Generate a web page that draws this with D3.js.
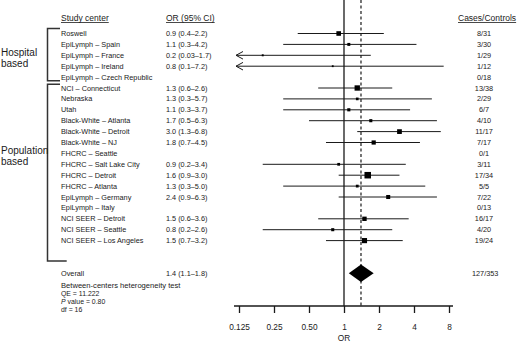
<!DOCTYPE html>
<html>
<head>
<meta charset="utf-8">
<script src="https://cdn.jsdelivr.net/npm/d3@7"></script>
<style>
  html, body { margin: 0; padding: 0; background: #fff; }
  svg { display: block; font-family: "Liberation Sans", Arial, Helvetica, sans-serif; }
</style>
</head>
<body>
<script>
const width = 520;
const height = 343;

// study rows, top to bottom
const centers = [
  "Roswell", "EpiLymph – Spain", "EpiLymph – France", "EpiLymph – Ireland",
  "EpiLymph – Czech Republic", "NCI – Connecticut", "Nebraska", "Utah",
  "Black-White – Atlanta", "Black-White – Detroit", "Black-White – NJ",
  "FHCRC – Seattle", "FHCRC – Salt Lake City", "FHCRC – Detroit", "FHCRC – Atlanta",
  "EpiLymph – Germany", "EpiLymph – Italy", "NCI SEER – Detroit",
  "NCI SEER – Seattle", "NCI SEER – Los Angeles"
];
const oddsRatio = [0.9, 1.1, 0.2, 0.8, null, 1.3, 1.3, 1.1, 1.7, 3.0, 1.8, null, 0.9, 1.6, 1.3, 2.4, null, 1.5, 0.8, 1.5];
const ciLow     = [0.4, 0.3, 0.03, 0.1, null, 0.6, 0.3, 0.3, 0.5, 1.3, 0.7, null, 0.2, 0.9, 0.3, 0.9, null, 0.6, 0.2, 0.7];
const ciHigh    = [2.2, 4.2, 1.7, 7.2, null, 2.6, 5.7, 3.7, 6.3, 6.8, 4.5, null, 3.4, 3.0, 5.0, 6.3, null, 3.6, 2.6, 3.2];
const casesControls = ["8/31", "3/30", "1/29", "1/12", "0/18", "13/38", "2/29", "6/7", "4/10", "11/17",
  "7/17", "0/1", "3/11", "17/34", "5/5", "7/22", "0/13", "16/17", "4/20", "19/24"];

// groups: first/last row index
const groups = [
  { name: ["Hospital", "based"], from: 0, to: 4 },
  { name: ["Population", "based"], from: 5, to: 19 }
];

const overall = { or: 1.4, lo: 1.1, hi: 1.8, cases: "127/353" };
const hetero = ["Between-centers heterogeneity test", "QE = 11.222", "P value = 0.80", "df = 16"];

const tickValues = [0.125, 0.25, 0.5, 1, 2, 4, 8];
const tickLabels = ["0.125", "0.25", "0.50", "1", "2", "4", "8"];

const ink = "#1a1a1a";

const svg = d3.select("body").append("svg")
  .attr("width", width)
  .attr("height", height);

const x = d3.scaleLog().base(2).domain([0.125, 8]).range([239, 449]);
const y = d3.scaleLinear().domain([0, 22]).range([33.5, 273.3]);
const side = d3.scaleLinear().domain([0, 1]).range([0, 2]); // precision (1/se) -> square side

const fmt = (v) => v < 0.1 ? v.toFixed(2) : v.toFixed(1);
const axisY = 306;
const xLeft = x.range()[0] - 3;

// reference lines
svg.append("line")
  .attr("x1", x(1)).attr("x2", x(1))
  .attr("y1", 0).attr("y2", axisY)
  .attr("stroke", ink).attr("stroke-width", 1.3);

svg.append("line")
  .attr("x1", x(overall.or)).attr("x2", x(overall.or))
  .attr("y1", 0).attr("y2", axisY)
  .attr("stroke", ink).attr("stroke-width", 1.2)
  .attr("stroke-dasharray", "3,2.5");

// axis
const axis = svg.append("g")
  .attr("transform", `translate(0,${axisY})`)
  .call(d3.axisBottom(x)
    .tickValues(tickValues)
    .tickFormat((d, i) => tickLabels[i])
    .tickSize(7)
    .tickSizeOuter(0)
    .tickPadding(11));
axis.select(".domain")
  .attr("d", `M${x.range()[0] - 5},0H${x.range()[1] + 4}`)
  .attr("stroke", ink).attr("stroke-width", 1.3);
axis.selectAll(".tick line").attr("stroke", ink).attr("stroke-width", 1.3);
axis.selectAll(".tick text")
  .attr("font-size", 8.3)
  .attr("font-family", "Liberation Sans, Arial, sans-serif")
  .attr("fill", ink);

svg.append("text")
  .attr("x", x(1)).attr("y", 341.3)
  .attr("text-anchor", "middle")
  .attr("font-size", 8.3).attr("fill", ink)
  .text("OR");

// headers
const headers = [
  { t: "Study center", x: 61 },
  { t: "OR (95% CI)", x: 166 },
  { t: "Cases/Controls", x: 458 }
];
headers.forEach((h) => {
  const t = svg.append("text")
    .attr("x", h.x).attr("y", 20.5)
    .attr("font-size", 8.5).attr("fill", ink)
    .text(h.t);
  const w = t.node().getComputedTextLength();
  svg.append("line")
    .attr("x1", h.x).attr("x2", h.x + w)
    .attr("y1", 22.5).attr("y2", 22.5)
    .attr("stroke", ink).attr("stroke-width", 0.8);
});

// rows
const rows = centers.map((c, i) => ({
  c, i, or: oddsRatio[i], lo: ciLow[i], hi: ciHigh[i], cc: casesControls[i]
}));

const row = svg.selectAll("g.row").data(rows).join("g").attr("class", "row");

row.append("text")
  .attr("x", 61).attr("y", (d) => y(d.i)).attr("dy", "0.35em")
  .attr("font-size", 7.3).attr("fill", ink)
  .text((d) => d.c);

row.filter((d) => d.or != null).append("text")
  .attr("x", 166).attr("y", (d) => y(d.i)).attr("dy", "0.35em")
  .attr("font-size", 7.3).attr("fill", ink)
  .text((d) => `${fmt(d.or)} (${fmt(d.lo)}–${fmt(d.hi)})`);

row.append("text")
  .attr("x", 484).attr("y", (d) => y(d.i)).attr("dy", "0.35em")
  .attr("text-anchor", "middle")
  .attr("font-size", 7.3).attr("fill", ink)
  .text((d) => d.cc);

const est = row.filter((d) => d.or != null);

est.append("line")
  .attr("x1", (d) => Math.max(x(d.lo), xLeft))
  .attr("x2", (d) => x(d.hi))
  .attr("y1", (d) => y(d.i)).attr("y2", (d) => y(d.i))
  .attr("stroke", ink).attr("stroke-width", 1);

est.filter((d) => x(d.lo) < xLeft).append("path")
  .attr("d", (d) => `M${xLeft + 7},${y(d.i) - 3.8}L${xLeft},${y(d.i)}L${xLeft + 7},${y(d.i) + 3.8}`)
  .attr("fill", "none").attr("stroke", ink).attr("stroke-width", 1);

est.append("rect")
  .each(function (d) {
    const se = (Math.log(d.hi) - Math.log(d.lo)) / 3.92;
    const s = side(1 / se);
    d3.select(this)
      .attr("x", x(d.or) - s / 2).attr("y", y(d.i) - s / 2)
      .attr("width", s).attr("height", s);
  })
  .attr("fill", "#000");

// brackets
const bx = 47.5;
groups.forEach((g, gi) => {
  const top = y(g.from) - 5;
  const bot = gi === 0 ? y(g.to) + 3.6 : y(g.to) + 20.5;
  const tipTop = 60;
  const tipBot = gi === 0 ? 60 : 66.7;
  svg.append("path")
    .attr("d", `M${tipTop},${gi === 0 ? top : top + 1.2}H${bx}V${bot}H${tipBot}`)
    .attr("fill", "none").attr("stroke", "#333").attr("stroke-width", 1.5);
  g.name.forEach((n, k) => {
    svg.append("text")
      .attr("x", 1).attr("y", (gi === 0 ? 52.7 : 150) + k * 11).attr("dy", "0.35em")
      .attr("font-size", 10).attr("fill", ink)
      .text(n);
  });
});

// overall
const oy = y(22);
svg.append("text")
  .attr("x", 61).attr("y", oy).attr("dy", "0.35em")
  .attr("font-size", 7.3).attr("fill", ink).text("Overall");
svg.append("text")
  .attr("x", 166).attr("y", oy).attr("dy", "0.35em")
  .attr("font-size", 7.3).attr("fill", ink)
  .text(`${fmt(overall.or)} (${fmt(overall.lo)}–${fmt(overall.hi)})`);
svg.append("text")
  .attr("x", 472).attr("y", oy).attr("dy", "0.35em")
  .attr("font-size", 7.3).attr("fill", ink).text(overall.cases);
svg.append("path")
  .attr("d", `M${x(overall.lo)},${oy}L${x(overall.or)},${oy - 8.7}L${x(overall.hi)},${oy}L${x(overall.or)},${oy + 8.7}Z`)
  .attr("fill", "#000");

// heterogeneity block
const hy = [285, 293.2, 301.2, 309.2];
hetero.forEach((t, i) => {
  const txt = svg.append("text")
    .attr("x", 61).attr("y", hy[i]).attr("dy", "0.35em")
    .attr("font-size", i === 0 ? 7.6 : 6.9).attr("fill", ink);
  if (t.startsWith("P ")) {
    txt.append("tspan").attr("font-style", "italic").text("P");
    txt.append("tspan").text(t.slice(1));
  } else {
    txt.text(t);
  }
});
</script>
</body>
</html>
